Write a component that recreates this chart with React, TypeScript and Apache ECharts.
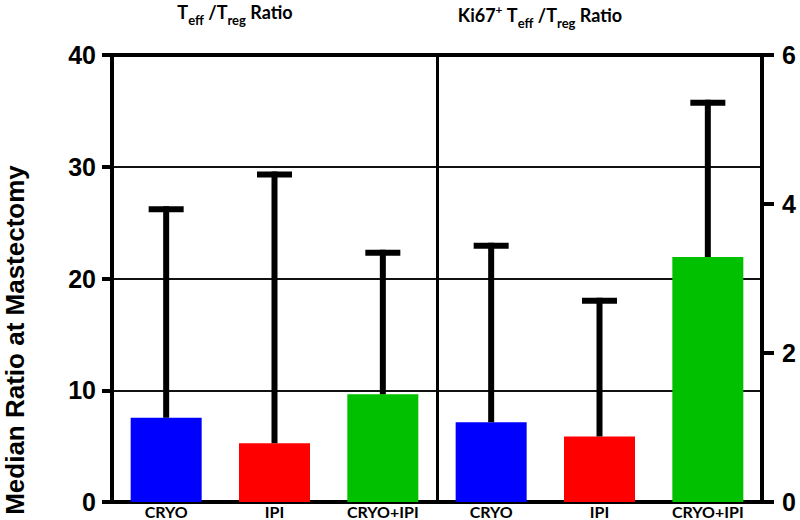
import React, { useEffect, useRef } from "react";
import * as echarts from "echarts";

const categories = ["CRYO", "IPI", "CRYO+IPI", "CRYO", "IPI", "CRYO+IPI"];
const barColors = ["#0000ff", "#ff0000", "#00c000", "#0000ff", "#ff0000", "#00c000"];
// Left panel: Teff/Treg ratio (left axis 0-40)
const leftMedian = [7.54, 5.26, 9.64];
const leftUpper = [26.2, 29.3, 22.3];
// Right panel: Ki67+ Teff/Treg ratio (right axis 0-6)
const rightMedian = [1.07, 0.88, 3.29];
const rightUpper = [3.44, 2.7, 5.36];
const leftTicks = { min: 0, max: 40, interval: 10 };
const rightTicks = { min: 0, max: 6, interval: 2 };

const AXIS_FONT = "Liberation Sans";
const TITLE_FONT = "Lato";

export default function App() {
  const ref = useRef<HTMLDivElement>(null);
  useEffect(() => {
    if (!ref.current) return;
    const chart = echarts.init(ref.current, undefined, { renderer: "svg" });

    const leftBars = categories.map((_, i) =>
      i < 3 ? { value: leftMedian[i], itemStyle: { color: barColors[i] } } : "-"
    );
    const rightBars = categories.map((_, i) =>
      i >= 3 ? { value: rightMedian[i - 3], itemStyle: { color: barColors[i] } } : "-"
    );
    const leftErr = leftMedian.map((m, i) => [i, m, leftUpper[i]]);
    const rightErr = rightMedian.map((m, i) => [i + 3, m, rightUpper[i]]);

    const errRender = (params: any, api: any) => {
      const x = api.value(0);
      const lo = api.coord([x, api.value(1)]);
      const hi = api.coord([x, api.value(2)]);
      const half = 17.5;
      return {
        type: "group",
        children: [
          {
            type: "line",
            shape: { x1: lo[0], y1: lo[1], x2: hi[0], y2: hi[1] - 3 },
            style: { stroke: "#000", lineWidth: 6 },
          },
          {
            type: "line",
            shape: { x1: hi[0] - half, y1: hi[1], x2: hi[0] + half, y2: hi[1] },
            style: { stroke: "#000", lineWidth: 6 },
          },
        ],
      };
    };

    const richTitle = {
      a: { fontFamily: TITLE_FONT, fontWeight: "bold", fontSize: 18, color: "#000", padding: [0, 0, 5, 0], verticalAlign: "bottom" },
      s: { fontFamily: TITLE_FONT, fontWeight: "bold", fontSize: 13, color: "#000", verticalAlign: "bottom" },
      p: { fontFamily: TITLE_FONT, fontWeight: "bold", fontSize: 12, color: "#000", padding: [0, 0, 14, 0], verticalAlign: "bottom" },
    };

    chart.setOption({
      animation: false,
      backgroundColor: "#fff",
      title: [
        {
          text: "{a|T}{s|eff}{a| /T}{s|reg}{a| Ratio}",
          left: 230,
          top: -2,
          textAlign: "center",
          textStyle: { rich: richTitle },
        },
        {
          text: "{a|Ki67}{p|+}{a| T}{s|eff}{a| /T}{s|reg}{a| Ratio}",
          left: 535,
          top: -2,
          textAlign: "center",
          textStyle: { rich: richTitle },
        },
      ],
      graphic: [
        {
          type: "text",
          x: 15,
          y: 340,
          rotation: Math.PI / 2,
          style: {
            text: "Median Ratio at Mastectomy",
            font: `bold 26px "${AXIS_FONT}"`,
            fill: "#000",
            textAlign: "center",
            textVerticalAlign: "middle",
          },
        },
      ],
      grid: { left: 112, right: 38, top: 55, bottom: 18, containLabel: false },
      xAxis: [
        {
          type: "category",
          data: categories,
          position: "bottom",
          axisLine: { show: true, lineStyle: { color: "#000", width: 4 } },
          axisTick: { show: false },
          axisLabel: {
            interval: 0,
            margin: 2,
            color: "#000",
            fontFamily: TITLE_FONT,
            fontWeight: "bold",
            fontSize: 16,
            lineHeight: 15,
          },
          splitLine: { show: false },
        },
        {
          type: "value",
          position: "top",
          min: 0,
          max: 2,
          interval: 1,
          axisLine: { show: true, onZero: false, lineStyle: { color: "#000", width: 4 } },
          axisTick: { show: false },
          axisLabel: { show: false },
          splitLine: { show: true, lineStyle: { color: "#000", width: 3 } },
        },
      ],
      yAxis: [
        {
          type: "value",
          position: "left",
          ...leftTicks,
          axisLine: { show: true, lineStyle: { color: "#000", width: 4 } },
          axisTick: { show: true, length: 10, lineStyle: { color: "#000", width: 4 } },
          axisLabel: {
            margin: 16,
            color: "#000",
            fontFamily: AXIS_FONT,
            fontWeight: "bold",
            fontSize: 25,
          },
          splitLine: { show: true, lineStyle: { color: "#111", width: 2 } },
        },
        {
          type: "value",
          position: "right",
          ...rightTicks,
          axisLine: { show: true, lineStyle: { color: "#000", width: 4 } },
          axisTick: { show: true, length: 12, lineStyle: { color: "#000", width: 4 } },
          axisLabel: {
            margin: 20,
            color: "#000",
            fontFamily: AXIS_FONT,
            fontWeight: "bold",
            fontSize: 25,
          },
          splitLine: { show: false },
        },
      ],
      series: [
        {
          type: "bar",
          yAxisIndex: 0,
          data: leftBars,
          barWidth: 71,
          barGap: "-100%",
          z: 2,
        },
        {
          type: "bar",
          yAxisIndex: 1,
          data: rightBars,
          barWidth: 71,
          barGap: "-100%",
          z: 2,
        },
        {
          type: "custom",
          yAxisIndex: 0,
          data: leftErr,
          encode: { x: 0, y: [1, 2] },
          renderItem: errRender,
          z: 3,
        },
        {
          type: "custom",
          yAxisIndex: 1,
          data: rightErr,
          encode: { x: 0, y: [1, 2] },
          renderItem: errRender,
          z: 3,
        },
      ],
    });
    return () => chart.dispose();
  }, []);
  return <div ref={ref} style={{ width: 800, height: 520, position: "fixed", left: 0, top: 0 }} />;
}
